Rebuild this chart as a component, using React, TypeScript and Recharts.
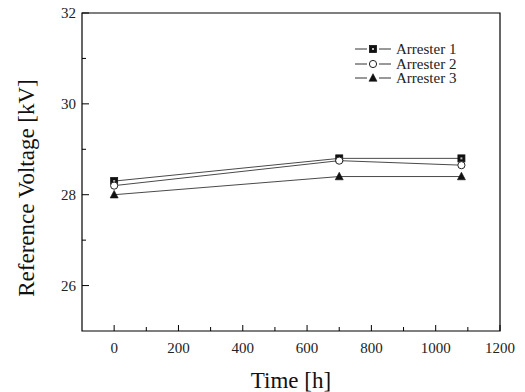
import * as React from 'react';
import {
  LineChart, Line, XAxis, YAxis, Legend, ReferenceArea,
} from 'recharts';

const times = [0, 700, 1080];
const arrester1 = [28.3, 28.8, 28.8];
const arrester2 = [28.2, 28.75, 28.65];
const arrester3 = [28.0, 28.4, 28.4];

const xTicks = [0, 100, 200, 300, 400, 500, 600, 700, 800, 900, 1000, 1100, 1200];
const yTicks = [26, 27, 28, 29, 30, 31, 32];

const seriesNames = ['Arrester 1', 'Arrester 2', 'Arrester 3'];

const FONT = '"Liberation Serif", "Times New Roman", serif';
const LINE_COLOR = '#4a4a4a';

const chartData = times.map((t, i) => ({
  time: t,
  a1: arrester1[i],
  a2: arrester2[i],
  a3: arrester3[i],
}));

function SquareMark({ cx, cy, size = 7 }: { cx: number; cy: number; size?: number }) {
  const h = size / 2;
  return (
    <g>
      <rect x={cx - h} y={cy - h} width={size} height={size} fill="#111" stroke="#111" strokeWidth={0.8} />
      <rect x={cx - 1} y={cy - 1} width={2} height={2} fill="#bbb" />
    </g>
  );
}

function CircleMark({ cx, cy, r = 3.6 }: { cx: number; cy: number; r?: number }) {
  return <circle cx={cx} cy={cy} r={r} fill="#fff" stroke="#222" strokeWidth={1} />;
}

function TriangleMark({ cx, cy, size = 8 }: { cx: number; cy: number; size?: number }) {
  const h = size * 0.9;
  return (
    <polygon
      points={`${cx},${cy - h * 0.6} ${cx - size / 2},${cy + h * 0.45} ${cx + size / 2},${cy + h * 0.45}`}
      fill="#111"
      stroke="#111"
      strokeWidth={0.6}
    />
  );
}

const marks = [SquareMark, CircleMark, TriangleMark];

function XTick(props: any) {
  const { x, y, payload } = props;
  const v = payload.value as number;
  const major = v % 200 === 0;
  return (
    <g>
      <line x1={x} y1={y} x2={x} y2={y - (major ? 6 : 4)} stroke="#000" strokeWidth={1} />
      {major && (
        <text x={x} y={y + 22} textAnchor="middle" fontFamily={FONT} fontSize={15} fill="#222">
          {v}
        </text>
      )}
    </g>
  );
}

function YTick(props: any) {
  const { x, y, payload } = props;
  const v = payload.value as number;
  const major = v % 2 === 0;
  return (
    <g>
      <line x1={x} y1={y} x2={x + (major ? 7 : 4)} y2={y} stroke="#000" strokeWidth={1} />
      {major && (
        <text x={x - 6} y={y + 5} textAnchor="end" fontFamily={FONT} fontSize={15} fill="#222">
          {v}
        </text>
      )}
    </g>
  );
}

// legend symbol: dash, marker, dash with small gaps like the original plot
function LegendContent() {
  return (
    <div style={{ fontFamily: FONT, fontSize: 15, color: '#222', lineHeight: '14.5px' }}>
      {seriesNames.map((name, i) => {
        const Mark = marks[i];
        return (
          <div key={name} style={{ display: 'flex', alignItems: 'center', height: 14.5 }}>
            <svg width={38} height={12} style={{ marginRight: 4 }}>
              <line x1={1} y1={6} x2={13} y2={6} stroke="#333" strokeWidth={1} />
              <line x1={25} y1={6} x2={37} y2={6} stroke="#333" strokeWidth={1} />
              <Mark cx={19} cy={6} />
            </svg>
            <span>{name}</span>
          </div>
        );
      })}
    </div>
  );
}

export default function App() {
  const keys = ['a1', 'a2', 'a3'];
  return (
    <div style={{ position: 'absolute', left: 0, top: 0, width: 525, height: 392, background: '#fff' }}>
      <LineChart width={525} height={392} data={chartData} margin={{ top: 13, right: 25, bottom: 0, left: 0 }}>
        <XAxis
          dataKey="time"
          type="number"
          domain={[-100, 1200]}
          ticks={xTicks}
          interval={0}
          axisLine={false}
          tickLine={false}
          tickSize={0}
          tickMargin={0}
          height={61}
          tick={<XTick />}
          label={{
            content: () => (
              <text x={291} y={388} textAnchor="middle" fontFamily={FONT} fontSize={23} fill="#111">
                Time [h]
              </text>
            ),
          }}
        />
        <YAxis
          type="number"
          domain={[25, 32]}
          ticks={yTicks}
          interval={0}
          axisLine={false}
          tickLine={false}
          tickSize={0}
          tickMargin={0}
          width={82}
          tick={<YTick />}
          label={{
            content: () => (
              <text
                x={0}
                y={0}
                transform="translate(34, 188) rotate(-90)"
                textAnchor="middle"
                fontFamily={FONT}
                fontSize={23}
                fill="#111"
              >
                Reference Voltage [kV]
              </text>
            ),
          }}
        />
        <ReferenceArea x1={-100} x2={1200} y1={25} y2={32} fill="none" stroke="#000" strokeWidth={1.2} ifOverflow="visible" />
        <Legend
          layout="vertical"
          align="center"
          verticalAlign="middle"
          content={<LegendContent />}
          wrapperStyle={{ left: 354, top: 42, width: 'auto' }}
        />
        {keys.map((k, i) => {
          const Mark = marks[i];
          return (
            <Line
              key={k}
              dataKey={k}
              name={seriesNames[i]}
              type="linear"
              stroke={LINE_COLOR}
              strokeWidth={1}
              isAnimationActive={false}
              dot={(p: any) => <Mark key={`${k}-${p.index}`} cx={p.cx} cy={p.cy} />}
              activeDot={false}
            />
          );
        })}
      </LineChart>
    </div>
  );
}
